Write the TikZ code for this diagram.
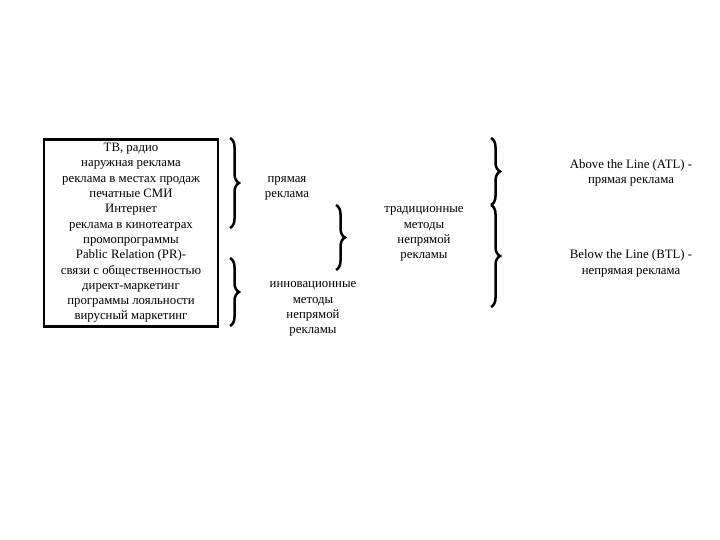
\documentclass[tikz,border=0pt]{standalone}
\usepackage{fontspec}
\setmainfont{Liberation Serif}
\usetikzlibrary{decorations.pathreplacing, positioning}

\begin{document}
\begin{tikzpicture}[x=1pt, y=-1pt, thick]
        % Estilos
        \tikzstyle{srcbox} = [draw, line width=2.5pt, rectangle, minimum width=174pt, minimum height=187pt, align=center, inner sep=0pt, font=\fontsize{12.8}{15.3}\selectfont]
        \tikzstyle{label} = [align=center, inner sep=0pt, font=\fontsize{12.8}{15.3}\selectfont]
        \tikzstyle{curly} = [decorate, decoration={brace, amplitude=9pt}, line width=2.5pt]

        \useasboundingbox (0,0) rectangle (720,540);

        % Nodes
        \node [srcbox] (channels) at (131,233) {ТВ, радио\\наружная реклама\\реклама в местах продаж\\печатные СМИ\\Интернет\\реклама в кинотеатрах\\промопрограммы\\Pablic Relation (PR)-\\связи с общественностью\\директ-маркетинг\\программы лояльности\\вирусный маркетинг};
        \node [label] (direct) at (287,188.5) {прямая\\реклама};
        \node [label] (tradit) at (424,234) {традиционные\\методы\\непрямой\\рекламы};
        \node [label] (innov) at (313,309) {инновационные\\методы\\непрямой\\рекламы};
        \node [label] (atl) at (631,173) {Above the Line (ATL) -\\прямая реклама};
        \node [label] (btl) at (631,263.5) {Below the Line (BTL) -\\непрямая реклама};

        \coordinate (b1top) at (230,138);
        \coordinate (b1bot) at (230,228);
        \coordinate (b2top) at (230,258);
        \coordinate (b2bot) at (230,326);
        \coordinate (b3top) at (336,205);
        \coordinate (b3bot) at (336,270);
        \coordinate (b4top) at (491,138);
        \coordinate (b4mid) at (491,205);
        \coordinate (b4bot) at (491,307);

        % Lines
        \draw [curly] (b1top) -- (b1bot);
        \draw [curly] (b2top) -- (b2bot);
        \draw [curly] (b3top) -- (b3bot);
        \draw [curly] (b4top) -- (b4mid);
        \draw [curly] (b4mid) -- (b4bot);

\end{tikzpicture}
\end{document}
